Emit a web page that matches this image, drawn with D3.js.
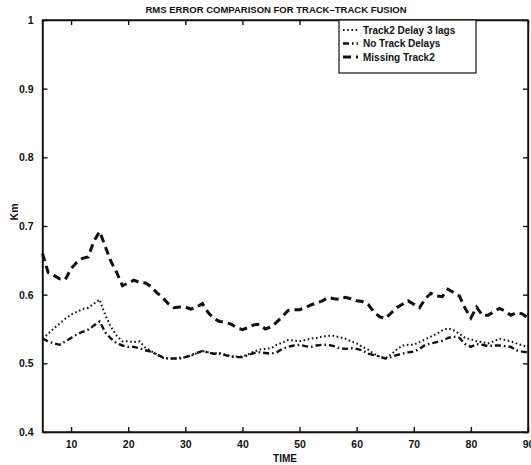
<!DOCTYPE html>
<head>
  <meta charset="utf-8">
  <script src="https://d3js.org/d3.v7.min.js"></script>
  <style>
    body { margin:0; background:#fff; font-family: "Liberation Sans", Arial, Helvetica, sans-serif; }
    text { font-family: "Liberation Sans", Arial, Helvetica, sans-serif; font-weight: bold; fill:#111; }
    .axis path, .axis line { fill:none; stroke:#111; stroke-width:1.4; }
  </style>
</head>
<body>
<script>
const time = d3.range(5, 91); // 5..90

const delay3 = [0.536,0.543,0.551,0.558,0.565,0.571,0.575,0.579,0.581,0.587,
  0.593,0.570,0.553,0.540,0.532,0.532,0.531,0.532,0.523,0.518,
  0.513,0.508,0.507,0.507,0.508,0.509,0.511,0.515,0.518,0.516,
  0.514,0.515,0.513,0.510,0.510,0.510,0.513,0.517,0.520,0.521,
  0.522,0.527,0.530,0.534,0.533,0.532,0.534,0.536,0.537,0.539,
  0.540,0.540,0.538,0.536,0.532,0.529,0.524,0.520,0.514,0.510,
  0.507,0.513,0.520,0.526,0.527,0.527,0.531,0.535,0.539,0.543,
  0.548,0.551,0.548,0.543,0.537,0.535,0.532,0.531,0.529,0.532,
  0.536,0.534,0.532,0.529,0.526,0.524];

const noDelay = [0.536,0.532,0.529,0.527,0.532,0.537,0.542,0.546,0.549,0.555,
  0.561,0.545,0.536,0.529,0.526,0.524,0.524,0.522,0.519,0.517,
  0.513,0.509,0.507,0.507,0.507,0.509,0.512,0.515,0.518,0.516,
  0.514,0.514,0.512,0.510,0.509,0.509,0.512,0.515,0.516,0.515,
  0.514,0.516,0.521,0.524,0.526,0.527,0.525,0.524,0.526,0.527,
  0.527,0.525,0.522,0.521,0.522,0.521,0.519,0.514,0.512,0.510,
  0.507,0.509,0.512,0.514,0.516,0.517,0.521,0.527,0.529,0.531,
  0.533,0.537,0.539,0.537,0.528,0.524,0.528,0.527,0.525,0.526,
  0.526,0.525,0.524,0.519,0.517,0.516];

const missing2 = [0.660,0.632,0.628,0.623,0.622,0.638,0.647,0.653,0.655,0.678,
  0.692,0.670,0.648,0.632,0.613,0.617,0.621,0.618,0.617,0.612,
  0.603,0.596,0.587,0.581,0.582,0.582,0.579,0.582,0.587,0.574,
  0.565,0.561,0.560,0.557,0.552,0.549,0.552,0.556,0.557,0.550,
  0.553,0.560,0.568,0.577,0.578,0.578,0.581,0.585,0.588,0.591,
  0.596,0.594,0.593,0.596,0.594,0.591,0.590,0.586,0.575,0.568,
  0.565,0.573,0.581,0.586,0.591,0.586,0.581,0.594,0.602,0.598,
  0.597,0.608,0.603,0.598,0.580,0.566,0.582,0.570,0.570,0.575,
  0.580,0.576,0.570,0.574,0.572,0.566];

const seriesNames = ["Track2 Delay 3 lags", "No Track Delays", "Missing Track2"];
const xTicks = [10, 20, 30, 40, 50, 60, 70, 80, 90];
const yTicks = [0.4, 0.5, 0.6, 0.7, 0.8, 0.9, 1];

const W = 531, H = 465;
const margin = {top: 20, right: 3, bottom: 33, left: 42.5};
const width = W - margin.left - margin.right,
      height = H - margin.top - margin.bottom;

const series = [
  {name: seriesNames[0], values: delay3,  dash: "1.6,2.6", sw: 2},
  {name: seriesNames[1], values: noDelay, dash: "6,3,1.6,3", sw: 2.4},
  {name: seriesNames[2], values: missing2, dash: "8,5", sw: 3}
];

const svg = d3.select("body").append("svg")
    .attr("width", W).attr("height", H)
  .append("g")
    .attr("transform", "translate(" + margin.left + "," + margin.top + ")");

const x = d3.scaleLinear().domain([5, 90]).range([0, width]);
const y = d3.scaleLinear().domain([0.4, 1]).range([height, 0]);

const fmt = d => d === 1 ? "1" : d3.format(".1f")(d);

// bottom + top axes (ticks pointing inside)
svg.append("g").attr("class", "axis")
    .attr("transform", "translate(0," + height + ")")
    .call(d3.axisBottom(x).tickValues(xTicks).tickSizeInner(-5).tickSizeOuter(0).tickPadding(9))
    .selectAll("text").style("font-size", "10.5px");
svg.append("g").attr("class", "axis")
    .call(d3.axisTop(x).tickValues(xTicks).tickSizeInner(-5).tickSizeOuter(0).tickFormat(""));
svg.append("g").attr("class", "axis")
    .call(d3.axisLeft(y).tickValues(yTicks).tickSizeInner(-5).tickSizeOuter(0).tickPadding(9).tickFormat(fmt))
    .selectAll("text").style("font-size", "10.5px");
svg.append("g").attr("class", "axis")
    .attr("transform", "translate(" + width + ",0)")
    .call(d3.axisRight(y).tickValues(yTicks).tickSizeInner(-5).tickSizeOuter(0).tickFormat(""));
svg.append("rect")
    .attr("width", width).attr("height", height)
    .attr("fill", "none").attr("stroke", "#111").attr("stroke-width", 1.4);

const line = d3.line()
    .x((d, i) => x(time[i]))
    .y(d => y(d));

svg.selectAll(".series")
    .data(series)
  .enter().append("path")
    .attr("class", "series")
    .attr("fill", "none")
    .attr("stroke", "#111")
    .attr("stroke-width", d => d.sw)
    .attr("stroke-dasharray", d => d.dash)
    .attr("d", d => line(d.values));

// legend
const lg = svg.append("g").attr("transform", "translate(" + (339 - margin.left) + ",0)");
lg.append("rect")
    .attr("width", 137).attr("height", 53)
    .attr("fill", "#fff").attr("stroke", "#111").attr("stroke-width", 1.2);
series.forEach((s, i) => {
  const yy = 10 + i * 13.5;
  lg.append("line")
      .attr("x1", 4).attr("x2", 19)
      .attr("y1", yy).attr("y2", yy)
      .attr("stroke", "#111")
      .attr("stroke-width", s.sw)
      .attr("stroke-dasharray", s.dash);
  lg.append("text")
      .attr("x", 24).attr("y", yy + 3.5)
      .style("font-size", "10px")
      .text(s.name);
});

// title and axis labels
svg.append("text")
    .attr("x", 276 - margin.left).attr("y", -7)
    .attr("text-anchor", "middle")
    .style("font-size", "9.5px")
    .text("RMS ERROR COMPARISON FOR TRACK\u2013TRACK FUSION");
svg.append("text")
    .attr("x", 285 - margin.left).attr("y", height + 30)
    .attr("text-anchor", "middle")
    .style("font-size", "10px")
    .text("TIME");
svg.append("text")
    .attr("transform", "translate(" + (18 - margin.left) + "," + (212 - margin.top) + ") rotate(-90)")
    .attr("text-anchor", "middle")
    .style("font-size", "10.5px")
    .text("Km");
</script>
</body>
